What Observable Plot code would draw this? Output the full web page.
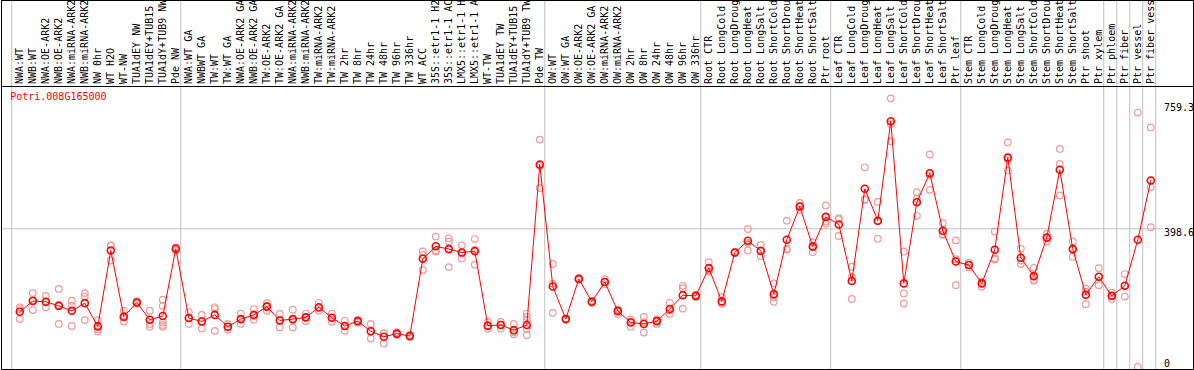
<!DOCTYPE html>
<html><head><meta charset="utf-8">
<script src="https://cdn.jsdelivr.net/npm/d3@7"></script>
<script src="https://cdn.jsdelivr.net/npm/@observablehq/plot@0.6"></script>
<style>body{margin:0;background:#fff;} #chart svg{overflow:hidden;display:block;}</style>
</head><body><div id="chart"></div>
<script>
const geneId = "Potri.008G165000";
const categories = [
  "NWA:WT","NWB:WT","NWA:OE-ARK2","NWB:OE-ARK2","NWA:miRNA-ARK2","NWB:miRNA-ARK2","NW 0hr","WT H2O","WT-NW","TUA1dEY NW","TUA1dEY+TUB15 NW","TUA1dY+TUB9 NW","Pde NW",
  "NWA:WT GA","NWBWT GA","TW:WT","TW:WT GA","NWA:OE-ARK2 GA","NWB:OE-ARK2 GA","TW:OE-ARK2","TW:OE-ARK2 GA","NWA:miRNA-ARK2","NWB:miRNA-ARK2","TW:miRNA-ARK2","TW:miRNA-ARK2",
  "TW 2hr","TW 8hr","TW 24hr","TW 48hr","TW 96hr","TW 336hr","WT ACC","35S::etr1-1 H2O","35S::etr1-1 ACC","LMX5::etr1-1 H2O","LMX5::etr1-1 ACC","WT-TW","TUA1dEY TW","TUA1dEY+TUB15 TW","TUA1dY+TUB9 TW","Pde TW",
  "OW:WT","OW:WT GA","OW:OE-ARK2","OW:OE-ARK2 GA","OW:miRNA-ARK2","OW:miRNA-ARK2","OW 2hr","OW 8hr","OW 24hr","OW 48hr","OW 96hr","OW 336hr",
  "Root CTR","Root LongCold","Root LongDrought","Root LongHeat","Root LongSalt","Root ShortCold","Root ShortDrought","Root ShortHeat","Root ShortSalt","Ptr root",
  "Leaf CTR","Leaf LongCold","Leaf LongDrought","Leaf LongHeat","Leaf LongSalt","Leaf ShortCold","Leaf ShortDrought","Leaf ShortHeat","Leaf ShortSalt","Ptr leaf",
  "Stem CTR","Stem LongCold","Stem LongDrought","Stem LongHeat","Stem LongSalt","Stem ShortCold","Stem ShortDrought","Stem ShortHeat","Stem ShortSalt","Ptr shoot","Ptr xylem",
  "Ptr phloem","Ptr fiber","Ptr vessel","Ptr fiber vessel"
];
const means = [
  159,190,188,176,162,184,117,336,145,186,136,147,341,
  141,131,150,116,138,150,174,134,138,143,172,142,
  118,132,103,87,96,89,312,348,340,330,334,119,121,106,121,584,
  232,138,254,188,245,161,128,124,132,167,207,205,
  285,189,330,364,335,210,367,463,347,433,
  411,248,514,422,709,241,475,559,393,304,
  294,241,338,604,315,262,373,569,340,208,260,
  205,234,367,538
];
const replicates = [
  [172,167,138],[213,193,164],[205,187,172],[225,179,124],[191,177,118],[213,203,135],[135,109,102],[350,351,307],[162,142,131],[190,186,182],[162,124,116],[194,176,128,121,116],[345,341,337],
  [158,141,124],[150,132,111],[172,167,104],[124,116,108],[154,136,124],[167,147,136],[184,176,162],[153,135,114],[165,135,114],[154,143,132],[185,170,162],[154,142,130],
  [133,118,104],[136,132,128],[124,103,82],[97,97,67],[100,96,92],[92,89,86],[333,323,280],[376,336,333],[371,362,288],[351,326,313],[369,338,295],[130,118,110],[130,122,111],[124,100,94],[154,144,134,109,92],[656,580,516],
  [297,240,156],[140,138,136],[256,254,252],[191,188,185],[253,245,238],[166,164,153],[137,131,116],[144,129,99],[135,137,124],[185,163,153],[234,227,168],[208,205,202],
  [302,278,275],[201,183,183],[332,330,328],[398,358,336],[352,333,320],[241,201,188],[422,341,338],[473,463,453],[360,350,331],[466,420,413],
  [429,426,378],[289,259,196],[576,484,482],[476,420,370],[775,701,651],[333,212,183],[504,485,436],[613,553,511],[415,383,381],[365,311,236],
  [301,294,287],[246,246,231],[391,310,313],[648,597,567],[341,307,297],[286,251,249],[384,373,362],[629,586,495],[362,340,318],[226,217,181],[285,260,236],
  [214,205,196],[268,234,203],[734,0],[691,519,403]
];
const yTicks = [759.3, 398.6, 0];
const yGrid = [398.6];
// index of the last sample in each block (-1 = before the first)
const groupEnds = [-1, 12, 40, 52, 62, 72, 83, 84, 85, 86, 87];

const meanData = categories.map((c, i) => ({i, c, v: means[i]}));
const repData = replicates.flatMap((r, i) => r.map(v => ({i, v})));

const plot = Plot.plot({
  width: 1194, height: 370,
  marginTop: 86, marginBottom: 1, marginLeft: 1, marginRight: 31,
  style: {fontFamily: "'DejaVu Sans Mono', monospace", fontSize: "10px", background: "#fff", overflow: "hidden"},
  x: {domain: [0, categories.length - 1], range: [19.3, 1150.3], axis: null},
  y: {domain: [0, 759.3], range: [366.4, 103.3], axis: null},
  marks: [
    Plot.ruleX(groupEnds, {x: d => d + 0.38, stroke: "#c0c0c0", strokeWidth: 1, insetTop: -86}),
    Plot.ruleY(yGrid, {stroke: "#c0c0c0", strokeWidth: 1}),
    Plot.text(categories, {x: (d, i) => i, text: d => d, frameAnchor: "top", rotate: -90, textAnchor: "start", lineAnchor: "middle", dy: -2.5, fill: "#000"}),
    Plot.text(yTicks.filter(d => d !== 0), {y: d => d, text: d => String(d), frameAnchor: "right", textAnchor: "start", lineAnchor: "top", dx: 0.5, fill: "#000"}),
    Plot.text(yTicks.filter(d => d === 0), {y: d => d, text: d => String(d), frameAnchor: "right", textAnchor: "start", lineAnchor: "bottom", dx: 0.5, fill: "#000"}),
    Plot.text([geneId], {text: d => d, frameAnchor: "top-left", textAnchor: "start", lineAnchor: "top", dx: 8.7, dy: 6.5, fill: "#ff0000"}),
    Plot.dot(repData, {x: "i", y: "v", r: 3.3, stroke: "#f09a9a", strokeWidth: 1.2, fill: "none"}),
    Plot.line(meanData, {x: "i", y: "v", stroke: "#ff0000", strokeWidth: 1}),
    Plot.dot(meanData, {x: "i", y: "v", r: 3.5, stroke: "#ff0000", strokeWidth: 1.6, fill: "none"}),
    Plot.frame({stroke: "#000", insetTop: -86, insetRight: -30}),
    Plot.frame({stroke: "#000", insetRight: -30})
  ]
});
document.getElementById("chart").appendChild(plot);
</script>
</body></html>
